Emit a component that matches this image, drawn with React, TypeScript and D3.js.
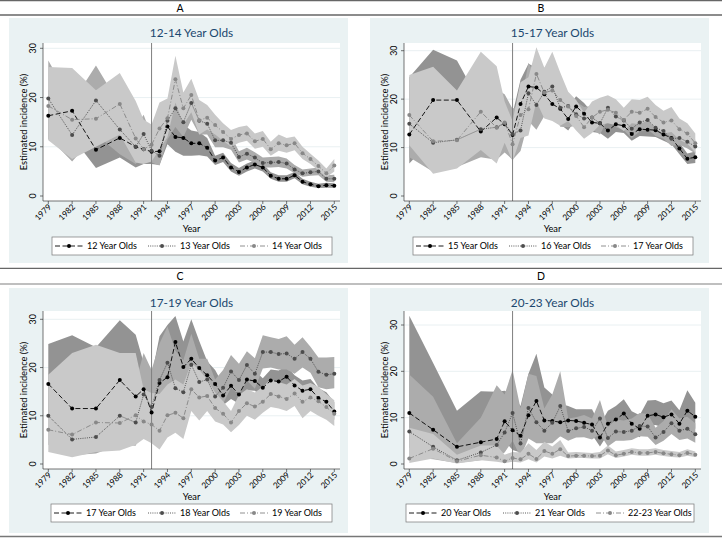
import React from 'react';
import * as d3 from 'd3';

// ---------- data ----------
const years = [1979, 1982, 1985, 1988, 1990, 1991, 1992, 1993, 1994, 1995, 1996, 1997, 1998, 1999, 2000, 2001, 2002, 2003, 2004, 2005, 2006, 2007, 2008, 2009, 2010, 2011, 2012, 2013, 2014, 2015];
const xTickYears = [1979, 1982, 1985, 1988, 1991, 1994, 1997, 2000, 2003, 2006, 2009, 2012, 2015];
const yTickValues = [0, 10, 20, 30];
const policyYear = 1992;

const panelLetters = ['A', 'B', 'C', 'D'];
const panelTitles = ['12-14 Year Olds', '15-17 Year Olds', '17-19 Year Olds', '20-23 Year Olds'];
const labelsA = ['12 Year Olds', '13 Year Olds', '14 Year Olds'];
const labelsB = ['15 Year Olds', '16 Year Olds', '17 Year Olds'];
const labelsC = ['17 Year Olds', '18 Year Olds', '19 Year Olds'];
const labelsD = ['20 Year Olds', '21 Year Olds', '22-23 Year Olds'];

// Panel A
const a12 = [16.3, 17.3, 9.4, 11.8, 10.0, 9.5, 9.0, 9.1, 14.1, 12.0, 11.8, 10.7, 10.7, 9.8, 7.2, 7.8, 5.8, 4.9, 5.8, 6.4, 5.8, 4.1, 3.5, 3.5, 4.2, 2.9, 2.4, 2.0, 2.2, 2.1];
const a12Lo = [11.5, 12.0, 5.7, 7.8, 5.8, 6.5, 6.5, 6.3, 10.5, 9.0, 8.2, 8.2, 8.3, 8.0, 6.3, 6.9, 5.0, 4.1, 5.0, 5.6, 5.0, 3.5, 2.9, 2.9, 3.6, 2.4, 1.9, 1.6, 1.7, 1.7];
const a12Hi = [21.5, 23.0, 13.5, 16.0, 14.5, 13.0, 12.0, 12.0, 17.5, 15.0, 14.5, 13.3, 13.0, 11.8, 8.2, 8.8, 6.7, 5.7, 6.6, 7.2, 6.6, 4.8, 4.2, 4.2, 4.9, 3.5, 2.9, 2.5, 2.7, 2.6];
const a13 = [19.8, 12.4, 19.4, 13.5, 10.0, 12.6, 9.2, 8.2, 15.3, 17.8, 15.0, 18.9, 15.3, 14.7, 11.3, 11.3, 10.8, 7.9, 8.6, 7.8, 6.7, 6.8, 6.9, 6.6, 5.4, 4.6, 4.8, 5.0, 3.5, 3.5];
const a13Lo = [12.0, 7.0, 12.5, 8.5, 6.5, 8.5, 6.8, 6.2, 11.5, 14.0, 12.0, 15.5, 12.5, 12.5, 9.9, 9.9, 9.4, 6.8, 7.4, 6.7, 5.8, 5.8, 5.9, 5.6, 4.6, 3.9, 4.1, 4.2, 2.9, 2.8];
const a13Hi = [27.5, 19.0, 26.5, 18.5, 14.0, 16.5, 12.2, 10.5, 19.0, 21.5, 18.2, 22.3, 18.0, 17.0, 12.8, 12.7, 12.2, 9.1, 9.8, 8.9, 7.8, 7.9, 8.0, 7.6, 6.3, 5.4, 5.6, 5.8, 4.2, 4.3];
const a14 = [18.3, 15.5, 15.7, 18.7, 11.7, 9.5, 10.4, 13.7, 15.8, 23.7, 17.8, 20.5, 15.4, 15.9, 14.4, 13.0, 11.6, 12.4, 12.7, 11.1, 11.6, 9.5, 10.7, 10.3, 10.7, 8.7, 7.5, 6.1, 4.6, 6.2];
const a14Lo = [11.3, 7.5, 10.0, 12.5, 6.8, 6.5, 7.0, 9.5, 12.0, 19.0, 14.5, 17.0, 12.5, 13.5, 12.5, 11.2, 10.0, 10.8, 11.2, 9.6, 10.0, 8.2, 9.2, 8.8, 9.3, 7.5, 6.5, 5.2, 3.8, 5.0];
const a14Hi = [26.2, 26.0, 21.5, 25.0, 19.3, 15.5, 14.5, 19.0, 19.8, 28.5, 21.0, 23.8, 19.5, 18.5, 16.5, 14.8, 13.4, 14.0, 14.3, 12.7, 13.2, 11.0, 12.5, 11.8, 12.1, 10.0, 8.6, 7.2, 5.6, 7.5];

// Panel B
const b15 = [12.7, 19.8, 19.8, 13.3, 16.2, 14.8, 12.6, 19.0, 22.6, 22.4, 21.0, 19.0, 18.0, 15.9, 18.5, 17.0, 15.2, 15.0, 13.5, 14.8, 14.5, 12.8, 13.8, 13.7, 13.6, 12.7, 12.0, 9.8, 7.7, 8.0];
const b15Lo = [6.7, 12.0, 13.0, 8.0, 10.0, 10.0, 8.5, 14.0, 18.0, 18.5, 17.5, 15.8, 14.8, 13.5, 16.0, 14.8, 13.2, 13.0, 11.8, 13.2, 13.0, 11.4, 12.4, 12.3, 12.2, 11.4, 10.7, 8.6, 6.6, 6.8];
const b15Hi = [24.5, 30.2, 28.0, 19.0, 23.0, 20.0, 17.0, 24.0, 27.3, 26.5, 25.0, 22.5, 21.3, 18.5, 20.6, 19.2, 17.3, 17.0, 15.2, 16.4, 16.0, 14.2, 15.2, 15.1, 15.0, 14.0, 13.3, 11.0, 8.8, 9.2];
const b16 = [14.9, 11.0, 11.6, 13.8, 14.2, 15.0, 12.8, 13.5, 21.2, 18.8, 21.5, 22.6, 18.2, 18.6, 16.9, 16.0, 16.2, 15.0, 18.2, 16.4, 15.6, 13.9, 15.2, 15.7, 14.1, 13.4, 11.8, 12.0, 11.2, 10.2];
const b16Lo = [8.0, 5.0, 6.0, 8.0, 7.5, 9.0, 7.5, 9.3, 15.5, 13.7, 16.5, 18.5, 14.3, 14.2, 14.5, 13.6, 13.8, 12.7, 15.8, 14.2, 13.6, 12.0, 13.3, 13.8, 12.4, 11.8, 10.3, 10.6, 9.8, 8.8];
const b16Hi = [23.0, 20.0, 19.0, 21.0, 22.0, 21.0, 18.0, 19.0, 27.5, 24.5, 26.5, 27.0, 22.2, 20.6, 19.5, 18.4, 18.6, 17.3, 20.6, 18.6, 17.6, 15.8, 17.1, 17.6, 15.8, 15.0, 13.3, 13.4, 12.6, 11.6];
const b17 = [16.7, 11.3, 11.5, 17.4, 14.1, 15.2, 10.7, 16.7, 17.9, 25.2, 21.3, 21.8, 19.8, 18.5, 16.5, 14.2, 16.2, 17.4, 17.8, 17.2, 15.7, 17.4, 17.2, 18.0, 16.3, 15.2, 15.6, 13.8, 12.9, 10.9];
const b17Lo = [10.5, 4.6, 5.7, 9.5, 6.7, 11.0, 7.2, 12.0, 12.5, 19.5, 16.0, 15.5, 14.5, 15.5, 13.5, 11.8, 13.0, 14.7, 15.0, 14.6, 13.4, 15.0, 14.8, 15.6, 14.0, 12.9, 13.2, 11.6, 10.8, 9.0];
const b17Hi = [25.0, 26.7, 21.8, 29.8, 26.8, 19.5, 15.5, 23.5, 24.5, 30.7, 26.5, 29.8, 25.5, 21.5, 19.8, 17.2, 19.5, 20.3, 20.8, 20.0, 18.2, 20.0, 19.8, 20.5, 18.8, 17.6, 18.4, 16.0, 15.0, 12.9];

// Panel C
const c17 = [16.6, 11.5, 11.5, 17.4, 14.0, 15.5, 10.7, 16.8, 18.0, 25.3, 20.1, 21.8, 19.9, 18.4, 16.6, 14.2, 16.2, 14.4, 17.5, 17.2, 15.8, 17.3, 17.1, 18.1, 16.3, 15.2, 15.5, 13.7, 12.9, 10.9];
const c17Lo = [10.5, 6.0, 5.0, 9.0, 6.5, 10.0, 6.0, 11.0, 12.0, 20.0, 15.0, 16.5, 15.0, 15.0, 14.0, 12.2, 13.5, 12.5, 15.3, 15.2, 13.8, 15.2, 15.0, 16.0, 14.3, 13.2, 13.5, 11.8, 11.0, 9.2];
const c17Hi = [24.9, 26.7, 24.2, 29.8, 26.8, 21.0, 18.2, 26.5, 28.8, 30.7, 25.4, 30.0, 25.5, 21.3, 19.5, 16.5, 19.2, 16.8, 19.8, 19.3, 17.8, 19.6, 19.4, 20.3, 18.4, 17.3, 17.6, 15.7, 14.9, 12.8];
const c18 = [10.0, 5.1, 5.6, 10.0, 8.6, 14.4, 11.8, 17.4, 21.0, 15.7, 14.9, 20.6, 17.0, 17.5, 14.0, 15.8, 19.2, 17.4, 20.5, 18.7, 23.2, 23.2, 22.8, 22.9, 21.8, 23.2, 21.8, 19.1, 18.5, 18.7];
const c18Lo = [4.0, 1.8, 2.2, 4.0, 3.8, 8.0, 6.5, 11.0, 14.0, 9.5, 9.5, 15.0, 12.8, 13.4, 11.0, 12.5, 15.8, 14.3, 17.3, 15.6, 19.8, 20.0, 19.6, 19.6, 18.7, 20.0, 18.9, 15.9, 15.5, 15.7];
const c18Hi = [19.0, 12.0, 13.0, 20.0, 17.0, 23.0, 19.5, 25.0, 28.5, 23.5, 21.5, 27.0, 21.8, 21.8, 17.5, 19.5, 22.6, 20.8, 23.4, 21.9, 26.7, 26.3, 25.9, 26.5, 24.7, 26.3, 24.3, 22.1, 22.1, 22.2];
const c19 = [7.1, 6.1, 8.6, 8.5, 10.1, 8.8, 8.2, 6.9, 10.1, 10.6, 9.5, 15.5, 13.8, 14.1, 11.6, 10.4, 8.6, 11.0, 12.6, 11.9, 12.9, 14.5, 14.0, 13.5, 14.6, 12.9, 13.8, 13.0, 11.8, 10.4];
const c19Lo = [2.5, 1.4, 2.5, 2.8, 4.0, 5.2, 4.3, 3.0, 5.5, 6.5, 5.2, 11.0, 9.0, 11.0, 8.8, 8.2, 6.6, 8.1, 10.0, 9.2, 10.6, 11.8, 11.5, 11.0, 12.0, 9.5, 11.0, 10.0, 9.2, 7.9];
const c19Hi = [18.5, 23.0, 24.7, 23.0, 23.0, 15.5, 14.7, 14.5, 16.5, 17.5, 16.5, 21.0, 19.5, 17.5, 14.8, 13.0, 11.0, 14.3, 15.5, 14.8, 16.0, 17.5, 17.0, 16.5, 17.6, 16.3, 16.8, 16.0, 14.5, 13.2];

// Panel D
const d20 = [11.0, 7.4, 3.7, 4.7, 5.4, 9.2, 7.3, 6.1, 10.5, 13.6, 9.4, 9.3, 9.0, 9.4, 9.3, 8.9, 8.5, 5.7, 8.7, 9.6, 10.9, 8.7, 7.6, 10.4, 10.7, 10.1, 10.7, 8.7, 11.5, 10.2];
const d20Lo = [3.5, 2.5, 1.0, 1.5, 2.0, 5.0, 3.0, 2.5, 6.5, 8.5, 6.5, 6.0, 6.0, 6.5, 7.0, 6.8, 6.3, 3.8, 6.5, 7.2, 8.4, 6.8, 5.8, 8.1, 8.4, 7.8, 8.3, 6.6, 8.8, 7.6];
const d20Hi = [32.0, 21.8, 11.5, 15.7, 15.6, 15.8, 15.0, 12.5, 19.5, 23.8, 16.5, 15.0, 13.0, 12.5, 11.8, 11.8, 11.8, 8.5, 11.5, 12.5, 14.0, 11.4, 10.5, 13.7, 13.8, 13.1, 13.7, 11.6, 15.9, 13.2];
const d21 = [7.0, 3.7, 0.8, 2.5, 4.1, 6.8, 11.0, 4.4, 12.1, 9.0, 7.2, 8.9, 12.5, 7.1, 7.7, 8.0, 7.2, 9.8, 5.6, 7.0, 6.9, 7.2, 8.2, 8.1, 5.7, 6.9, 8.8, 7.2, 7.6, 6.4];
const d21Lo = [1.5, 1.0, 0.2, 0.8, 1.5, 2.5, 5.0, 1.5, 5.5, 4.5, 4.5, 4.5, 6.0, 5.0, 5.7, 5.8, 5.3, 6.5, 3.8, 5.0, 5.0, 5.2, 6.0, 5.9, 4.1, 5.0, 6.5, 5.2, 5.5, 4.6];
const d21Hi = [19.3, 14.5, 4.5, 10.0, 17.0, 15.0, 20.3, 12.0, 19.5, 19.0, 12.0, 15.0, 20.0, 9.8, 10.1, 10.6, 9.8, 13.8, 8.0, 9.6, 9.4, 9.8, 11.0, 10.8, 7.8, 9.3, 11.8, 9.8, 10.2, 8.8];
const d22 = [1.2, 3.3, 0.6, 1.9, 1.4, 0.6, 1.3, 1.0, 2.2, 1.1, 2.8, 2.2, 3.2, 1.7, 1.8, 1.8, 1.7, 1.8, 2.9, 1.9, 2.2, 2.6, 2.4, 2.4, 2.6, 2.3, 2.1, 1.9, 2.4, 2.0];
const d22Lo = [0.2, 1.2, 0.1, 0.8, 0.5, 0.2, 0.5, 0.3, 1.0, 0.3, 1.6, 1.2, 1.8, 1.2, 1.3, 1.3, 1.2, 1.2, 2.1, 1.3, 1.6, 2.0, 1.8, 1.8, 2.0, 1.7, 1.5, 1.4, 1.8, 1.5];
const d22Hi = [7.8, 6.5, 2.0, 4.0, 4.0, 2.0, 2.6, 2.5, 4.5, 3.0, 4.8, 3.8, 5.2, 2.5, 2.6, 2.5, 2.4, 2.6, 4.0, 2.7, 3.0, 3.4, 3.2, 3.2, 3.4, 3.0, 2.8, 2.6, 3.2, 2.7];

// ---------- styles / layout ----------
const bandFills = ['#939393', '#acacac', '#c9c9c9'];
const lineStrokes = ['#000000', '#474747', '#858585'];
const lineDashes = ['5,2.5', '1,1.2', '5,2,1,2'];
const markerFills = ['#000000', '#4d4d4d', '#888888'];
const FONT = "Lato, 'Liberation Sans', sans-serif";

type SeriesData = { values: number[]; lo: number[]; hi: number[] };

interface Layout {
  bx: number; by: number; y0: number; y30: number; plotTop: number; plotBottom: number;
  legY: number; legX0: number; legX1: number; entryX: number[];
}

const layouts: Layout[] = [
  { bx: 9, by: 18, y0: 178, y30: 30.3, plotTop: 25, plotBottom: 183, legY: 219, legX0: 43, legX1: 323, entryX: [46, 139, 231] },
  { bx: 370, by: 18, y0: 178, y30: 32.7, plotTop: 25, plotBottom: 183, legY: 219, legX0: 43, legX1: 323, entryX: [46, 139, 231] },
  { bx: 9, by: 288, y0: 176, y30: 31.3, plotTop: 23, plotBottom: 181, legY: 216, legX0: 42, legX1: 323, entryX: [45, 139, 231] },
  { bx: 370, by: 288, y0: 176, y30: 37, plotTop: 23, plotBottom: 181, legY: 216, legX0: 36, legX1: 324, entryX: [39, 133, 226] },
];

const panelSeries: SeriesData[][] = [
  [{ values: a12, lo: a12Lo, hi: a12Hi }, { values: a13, lo: a13Lo, hi: a13Hi }, { values: a14, lo: a14Lo, hi: a14Hi }],
  [{ values: b15, lo: b15Lo, hi: b15Hi }, { values: b16, lo: b16Lo, hi: b16Hi }, { values: b17, lo: b17Lo, hi: b17Hi }],
  [{ values: c17, lo: c17Lo, hi: c17Hi }, { values: c18, lo: c18Lo, hi: c18Hi }, { values: c19, lo: c19Lo, hi: c19Hi }],
  [{ values: d20, lo: d20Lo, hi: d20Hi }, { values: d21, lo: d21Lo, hi: d21Hi }, { values: d22, lo: d22Lo, hi: d22Hi }],
];
const panelLabels = [labelsA, labelsB, labelsC, labelsD];

const PANEL_W = 339;
const PANEL_H = 245;
const PLOT_L = 34;
const PLOT_R = 331;

function Panel({ idx }: { idx: number }) {
  const L = layouts[idx];
  const series = panelSeries[idx];
  const labels = panelLabels[idx];
  const x = d3.scaleLinear().domain([1979, 2015]).range([39.3, 325.3]);
  const y = d3.scaleLinear().domain([0, 30]).range([L.y0, L.y30]);
  const idxs = years.map((_, i) => i);

  const area = (s: SeriesData) =>
    d3.area<number>().x((i) => x(years[i])).y0((i) => y(s.lo[i])).y1((i) => y(s.hi[i]))(idxs) || '';
  const line = (s: SeriesData) =>
    d3.line<number>().x((i) => x(years[i])).y((i) => y(s.values[i]))(idxs) || '';

  const cx = (PLOT_L + PLOT_R) / 2;
  const cy = (L.plotTop + L.plotBottom) / 2;

  return (
    <g transform={`translate(${L.bx},${L.by})`}>
      <rect x={0} y={0} width={PANEL_W} height={PANEL_H} fill="#eaf2f3" />
      <rect x={PLOT_L} y={L.plotTop} width={PLOT_R - PLOT_L} height={L.plotBottom - L.plotTop} fill="#ffffff" />
      <text x={cx} y={19} textAnchor="middle" fontFamily={FONT} fontSize={11.8} fill="#1a476f">
        {panelTitles[idx]}
      </text>
      {yTickValues.filter((v) => v > 0).map((v) => (
        <line key={v} x1={PLOT_L} x2={PLOT_R} y1={y(v)} y2={y(v)} stroke="#e6eef0" strokeWidth={0.9} />
      ))}
      {series.map((s, k) => (
        <path key={'b' + k} d={area(s)} fill={bandFills[k]} stroke="none" />
      ))}
      <line x1={x(policyYear)} x2={x(policyYear)} y1={L.plotTop} y2={L.plotBottom} stroke="#7f7f7f" strokeWidth={1} />
      {series.map((s, k) => (
        <g key={'l' + k}>
          <path d={line(s)} fill="none" stroke={lineStrokes[k]} strokeWidth={0.9} strokeDasharray={lineDashes[k]} />
          {s.values.map((v, i) => (
            <circle key={i} cx={x(years[i])} cy={y(v)} r={2} fill={markerFills[k]} />
          ))}
        </g>
      ))}
      <line x1={PLOT_L} x2={PLOT_L} y1={L.plotTop} y2={L.plotBottom} stroke="#3a3a3a" strokeWidth={0.7} />
      <line x1={PLOT_L} x2={PLOT_R} y1={L.plotBottom} y2={L.plotBottom} stroke="#3a3a3a" strokeWidth={0.7} />
      {yTickValues.map((v) => (
        <g key={'yt' + v}>
          <line x1={PLOT_L - 3} x2={PLOT_L} y1={y(v)} y2={y(v)} stroke="#3a3a3a" strokeWidth={0.7} />
          <text transform={`translate(${PLOT_L - 7.5},${y(v)}) rotate(-90)`} textAnchor="middle" fontFamily={FONT} fontSize={8.8} fill="#000">
            {v}
          </text>
        </g>
      ))}
      {xTickYears.map((yr) => (
        <g key={'xt' + yr}>
          <line x1={x(yr)} x2={x(yr)} y1={L.plotBottom} y2={L.plotBottom + 3} stroke="#3a3a3a" strokeWidth={0.7} />
          <text transform={`translate(${x(yr) + 3.5},${L.plotBottom + 6.5}) rotate(-45)`} textAnchor="end" fontFamily={FONT} fontSize={8.3} fill="#000">
            {yr}
          </text>
        </g>
      ))}
      <text transform={`translate(17.5,${cy}) rotate(-90)`} textAnchor="middle" fontFamily={FONT} fontSize={9.3} fill="#000">
        Estimated incidence (%)
      </text>
      <text x={cx} y={L.plotBottom + 31} textAnchor="middle" fontFamily={FONT} fontSize={9.3} fill="#000">
        Year
      </text>
      <rect x={L.legX0} y={L.legY} width={L.legX1 - L.legX0} height={18} fill="#ffffff" stroke="#777" strokeWidth={0.7} />
      {labels.map((lab, k) => {
        const ex = L.entryX[k];
        const ly = L.legY + 9;
        return (
          <g key={'lg' + k}>
            <line x1={ex} x2={ex + 28} y1={ly} y2={ly} stroke={lineStrokes[k]} strokeWidth={0.9} strokeDasharray={lineDashes[k]} />
            <circle cx={ex + 14} cy={ly} r={2} fill={markerFills[k]} />
            <text x={ex + 32} y={ly + 3.2} fontFamily={FONT} fontSize={9} fill="#000">
              {lab}
            </text>
          </g>
        );
      })}
    </g>
  );
}

export default function App() {
  return (
    <svg width={722} height={551} style={{ position: 'absolute', left: 0, top: 0, background: '#fff' }}>
      <rect x={0} y={0} width={722} height={551} fill="#ffffff" />
      <line x1={0} x2={722} y1={0.7} y2={0.7} stroke="#666" strokeWidth={1.3} />
      <line x1={0} x2={722} y1={15} y2={15} stroke="#666" strokeWidth={1.3} />
      <line x1={0} x2={722} y1={268.3} y2={268.3} stroke="#666" strokeWidth={1.3} />
      <line x1={0} x2={722} y1={284} y2={284} stroke="#aaa" strokeWidth={1.5} />
      <line x1={0} x2={722} y1={536.5} y2={536.5} stroke="#777" strokeWidth={1.3} />
      {panelLetters.map((l, i) => (
        <text key={l} x={i % 2 === 0 ? 180 : 541} y={i < 2 ? 11.5 : 279.5} textAnchor="middle" fontFamily={FONT} fontSize={10.5} fill="#000">
          {l}
        </text>
      ))}
      {layouts.map((_, i) => (
        <Panel key={i} idx={i} />
      ))}
    </svg>
  );
}
